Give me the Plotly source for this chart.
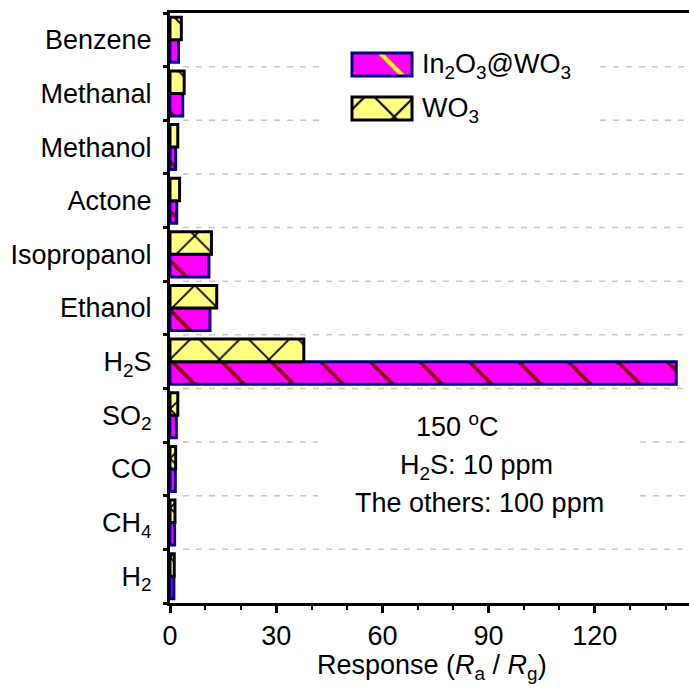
import plotly.graph_objects as go

# ---- data ----
categories = ["H<sub>2</sub>", "CH<sub>4</sub>", "CO", "SO<sub>2</sub>", "H<sub>2</sub>S",
              "Ethanol", "Isopropanol", "Actone", "Methanol", "Methanal", "Benzene"]
in2o3_wo3 = [1.1, 1.3, 1.5, 1.8, 143.0, 11.3, 11.0, 1.9, 1.6, 3.6, 2.4]
wo3 = [1.2, 1.4, 1.6, 2.2, 37.8, 13.2, 11.7, 2.7, 2.2, 4.0, 3.2]
series_names = ["In<sub>2</sub>O<sub>3</sub>@WO<sub>3</sub>", "WO<sub>3</sub>"]
x_ticks = [0, 30, 60, 90, 120]
legend_key_len = [1]
legend_key_cats = ["wo3", "in"]

FONT = "Liberation Sans, Arial, sans-serif"
FS = 27
MAGENTA = "#FF00FF"
YELLOW = "#FFFF80"
NAVY = "#000080"
GRID = "#C8C8C8"

W, H = 689, 695
L, R, T, B = 170, 0, 13, 92
PW, PH = W - L - R, H - T - B

def px(x):
    return (x - L) / PW

def py(y):
    return (H - B - y) / PH

fig = go.Figure()

fig.add_trace(go.Bar(
    y=categories, x=in2o3_wo3, orientation="h", name=series_names[0],
    marker=dict(color=MAGENTA, line=dict(color=NAVY, width=3),
                pattern=dict(shape="\\", fgcolor="#800000", fgopacity=1,
                             size=35, solidity=0.1, fillmode="overlay")),
    showlegend=False,
))
fig.add_trace(go.Bar(
    y=categories, x=wo3, orientation="h", name=series_names[1],
    marker=dict(color=YELLOW, line=dict(color="black", width=3),
                pattern=dict(shape="x", fgcolor="black", fgopacity=1,
                             size=35, solidity=0.1, fillmode="overlay")),
    showlegend=False,
))

# legend key swatches (drawn in a small overlay axes)
LEG_X0, LEG_X1 = 320, 600
KEY_X0, KEY_X1 = 352, 412
unit = KEY_X1 - KEY_X0
x2_range = [-(KEY_X0 - LEG_X0) / unit, (LEG_X1 - KEY_X0) / unit]

fig.add_trace(go.Bar(
    y=[legend_key_cats[1]], x=legend_key_len, orientation="h", width=0.52,
    xaxis="x2", yaxis="y2", showlegend=False, hoverinfo="skip",
    offsetgroup="key",
    marker=dict(color=MAGENTA, line=dict(color=NAVY, width=3),
                pattern=dict(shape="\\", fgcolor="#FFFF00", fgopacity=1,
                             size=35, solidity=0.12, fillmode="overlay")),
))
fig.add_trace(go.Bar(
    y=[legend_key_cats[0]], x=legend_key_len, orientation="h", width=0.52,
    xaxis="x2", yaxis="y2", showlegend=False, hoverinfo="skip",
    offsetgroup="key",
    marker=dict(color=YELLOW, line=dict(color="black", width=3),
                pattern=dict(shape="x", fgcolor="black", fgopacity=1,
                             size=35, solidity=0.12, fillmode="overlay")),
))

# dashed category-boundary grid lines, interrupted behind legend and note
n = len(categories)
legend_gaps = {n - 1.5, n - 2.5}          # behind the legend
note_gaps = {categories.index("CO") + 0.5, categories.index("CH<sub>4</sub>") + 0.5}
shapes = []
for i in range(n - 1):
    yb = i + 0.5
    if yb in legend_gaps:
        segs = [(183, LEG_X0), (LEG_X1, W)]
    elif yb in note_gaps:
        segs = [(183, 318), (640, W)]
    else:
        segs = [(183, W)]
    for a, b in segs:
        shapes.append(dict(type="line", xref="paper", yref="y",
                           x0=px(a), x1=px(b), y0=yb, y1=yb, layer="below",
                           line=dict(color=GRID, width=1.5, dash="6px,7px")))

fig.update_layout(
    width=W, height=H,
    margin=dict(l=L, r=R, t=T, b=B, pad=0),
    paper_bgcolor="white", plot_bgcolor="white",
    font=dict(family=FONT, size=FS, color="black"),
    barmode="group", bargap=0.16, bargroupgap=0,
    xaxis=dict(
        range=[0, 146.6], tickvals=x_ticks, ticks="outside", ticklen=7,
        tickwidth=3, tickcolor="black", showline=True, linewidth=3,
        linecolor="black", mirror=True, showgrid=False, zeroline=False,
        minor=dict(dtick=10, ticks="outside", ticklen=4, tickwidth=2,
                   tickcolor="black"),
        tickfont=dict(size=FS), ticklabelstandoff=0,
    ),
    yaxis=dict(
        type="category", categoryorder="array", categoryarray=categories,
        tickson="boundaries", ticks="outside", ticklen=4, tickwidth=3,
        tickcolor="black", showline=True, linewidth=3, linecolor="black",
        showgrid=False, zeroline=False, tickfont=dict(size=FS),
        ticklabelstandoff=10,
    ),
    xaxis2=dict(domain=[px(LEG_X0), px(LEG_X1)], range=x2_range, anchor="y2",
                visible=False, fixedrange=True),
    yaxis2=dict(domain=[py(130.5), py(42.5)], anchor="x2", type="category",
                categoryorder="array", categoryarray=legend_key_cats,
                visible=False, fixedrange=True),
    shapes=shapes,
    annotations=[
        dict(text=series_names[0], xref="paper", yref="paper", x=px(420), y=py(66),
             xanchor="left", yanchor="middle", showarrow=False, font=dict(size=FS)),
        dict(text=series_names[1], xref="paper", yref="paper", x=px(420), y=py(110),
             xanchor="left", yanchor="middle", showarrow=False, font=dict(size=FS)),
        dict(text="150 <sup>o</sup>C", xref="paper", yref="paper", x=px(457), y=py(425),
             xanchor="center", yanchor="middle", showarrow=False, font=dict(size=FS)),
        dict(text="H<sub>2</sub>S: 10 ppm", xref="paper", yref="paper", x=px(477), y=py(467),
             xanchor="center", yanchor="middle", showarrow=False, font=dict(size=FS)),
        dict(text="The others: 100 ppm", xref="paper", yref="paper", x=px(479), y=py(503),
             xanchor="center", yanchor="middle", showarrow=False, font=dict(size=FS)),
        dict(text="Response (<i>R</i><sub>a</sub> / <i>R</i><sub>g</sub>)",
             xref="paper", yref="paper", x=px(432), y=py(667),
             xanchor="center", yanchor="middle", showarrow=False, font=dict(size=FS)),
    ],
)

fig.write_html("out.html")
